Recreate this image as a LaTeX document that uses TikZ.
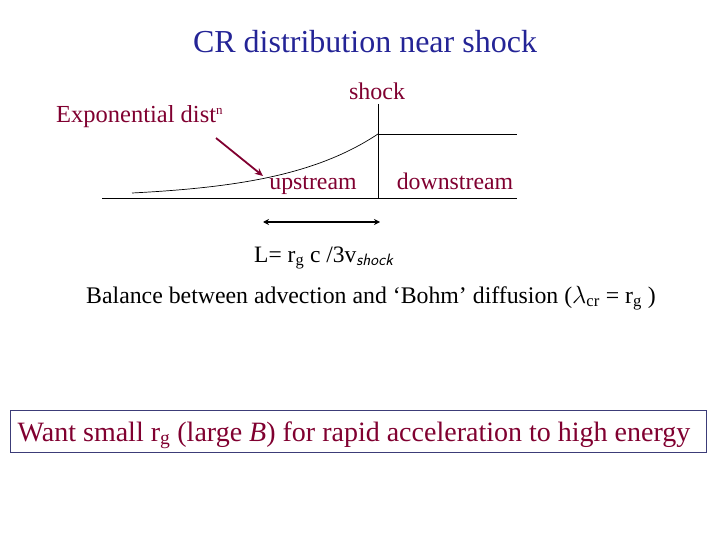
\documentclass[tikz,border=0pt]{standalone}
\usepackage{fontspec}
\setmainfont{Liberation Serif}
\usetikzlibrary{arrows.meta}
\definecolor{maroon}{RGB}{128,0,48}
\definecolor{navy}{RGB}{36,36,150}
\definecolor{boxline}{RGB}{60,60,120}
\tikzset{
  lbl/.style={inner sep=0pt, anchor=base},
  mtext/.style={lbl, text=maroon},
  thinline/.style={draw=black, line width=0.9pt},
}
\begin{document}
\begin{tikzpicture}[x=1pt,y=-1pt]
\useasboundingbox (0,0) rectangle (720,540);
% title
\node[lbl, text=navy, font=\fontsize{32}{36}\selectfont] (title) at (365,53) {CR distribution near shock};
% labels
\node[mtext, font=\fontsize{24}{28}\selectfont] (shocklbl) at (377,100) {shock};
\node[mtext, font=\fontsize{24.5}{28}\selectfont, anchor=base west] (expo) at (56,123) {Exponential dist\raisebox{8pt}{\fontsize{13}{13}\selectfont n}};
\node[mtext, font=\fontsize{23.8}{28}\selectfont] (up) at (313,190) {upstream};
\node[mtext, font=\fontsize{23.8}{28}\selectfont] (down) at (455,190) {downstream};
% axes
\coordinate (shtop) at (378,104);
\coordinate (shbot) at (378,198);
\coordinate (shmid) at (378,134);
\coordinate (dsend) at (517,134);
\coordinate (axl) at (102,198);
\coordinate (axr) at (517,198);
\draw[thinline] (shtop) -- (shbot);
\draw[thinline] (shmid) -- (dsend);
\draw[thinline] (axl) -- (axr);
% exponential curve
\draw[black, line width=0.7pt] plot[domain=132:378, samples=60, smooth] (\x,{198-64*exp((\x-378)/96.5)});
% pointer arrow
\coordinate (pa) at (216,138);
\coordinate (pb) at (263,176);
\draw[maroon, line width=1.8pt, -{Stealth[length=8pt,width=7pt]}] (pa) -- (pb);
% L arrow
\coordinate (la) at (263,222);
\coordinate (lb) at (380,222);
\draw[black, line width=1.8pt, {Stealth[length=6pt,width=6pt]}-{Stealth[length=6pt,width=6pt]}] (la) -- (lb);
\node[lbl, anchor=base west, font=\fontsize{23.5}{28}\selectfont] (Leq) at (254,262) {L= r\textsubscript{g} c /3v\textsubscript{\itshape\sffamily shock}};
\node[lbl, anchor=base west, font=\fontsize{23.8}{28}\selectfont] (bal) at (86,303) {Balance between advection and `Bohm' diffusion ($\lambda$\textsubscript{cr} = r\textsubscript{g} )};
% box
\node[draw=boxline, line width=0.8pt, minimum width=696pt, minimum height=42pt, inner sep=0pt] (box) at (358,431) {};
\node[lbl, text=maroon, font=\fontsize{28}{32}\selectfont] (want) at (354,441) {Want small r\textsubscript{g} (large \textit{B}) for rapid acceleration to high energy};
\end{tikzpicture}
\end{document}
